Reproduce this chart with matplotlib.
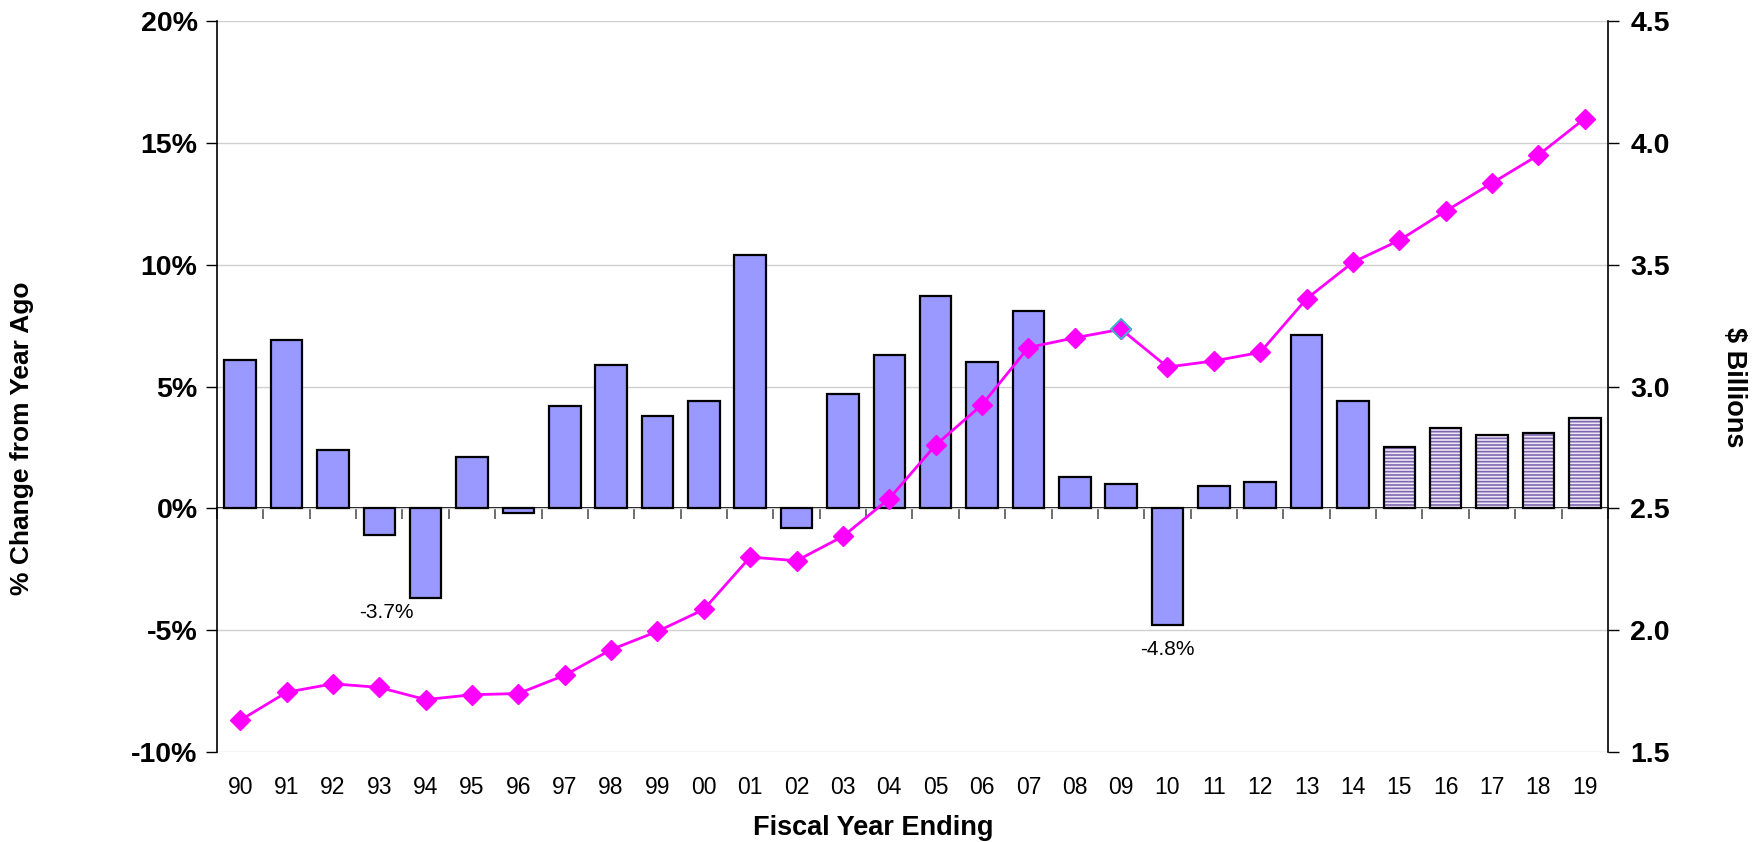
import matplotlib
matplotlib.use('Agg')
import matplotlib.pyplot as plt
import numpy as np

years = ['90','91','92','93','94','95','96','97','98','99','00','01','02','03','04',
         '05','06','07','08','09','10','11','12','13','14','15','16','17','18','19']
pct_change = [6.1, 6.9, 2.4, -1.1, -3.7, 2.1, -0.2, 4.2, 5.9, 3.8, 4.4, 10.4, -0.8, 4.7, 6.3,
              8.7, 6.0, 8.1, 1.3, 1.0, -4.8, 0.9, 1.1, 7.1, 4.4, 2.5, 3.3, 3.0, 3.1, 3.7]
billions = [1.63, 1.745, 1.78, 1.765, 1.715, 1.735, 1.74, 1.815, 1.92, 1.995, 2.085, 2.30, 2.285, 2.385, 2.54,
            2.76, 2.925, 3.16, 3.20, 3.235, 3.08, 3.105, 3.14, 3.36, 3.51, 3.60, 3.72, 3.835, 3.95, 4.10]
first_forecast = 25          # FY15 onward are projections
highlight = 19               # FY09 point
labelled = {4: (-0.85, -0.2), 20: (0.0, -0.6)}   # index: (dx, dy) for value labels

plt.rcParams['font.family'] = ['Liberation Sans', 'DejaVu Sans']
plt.rcParams['hatch.linewidth'] = 1.2

fig = plt.figure(figsize=(17.6, 8.42), dpi=100)
ax = fig.add_axes([0.1233, 0.1069, 0.7903, 0.8681])
ax2 = ax.twinx()

x = np.arange(len(years))
pct = np.array(pct_change)
hist = x < first_forecast
fc = x >= first_forecast

ax.bar(x[hist], pct[hist], width=0.68, color='#9999ff', edgecolor='black', linewidth=1.6, zorder=3)
ax.bar(x[fc], pct[fc], width=0.68, color='#eee8f6', edgecolor='#7e66b0', linewidth=0,
       hatch='-----', zorder=3)
ax.bar(x[fc], pct[fc], width=0.68, fill=False, edgecolor='black', linewidth=1.6, zorder=4)

for i, (dx, dy) in labelled.items():
    ax.text(x[i] + dx, pct[i] + dy, f'{pct[i]:.1f}%', ha='center', va='top', fontsize=15,
            zorder=5)

ax.set_xlim(-0.5, len(years) - 0.5)
ax.set_ylim(-10, 20)
ax.set_yticks(np.arange(-10, 21, 5))
ax.set_yticklabels([f'{v}%' for v in range(-10, 21, 5)], fontsize=20.5, fontweight='bold')
ax.yaxis.grid(True, color='#d0d0d0', linewidth=1.0, zorder=0)
ax.set_axisbelow(True)
ax.set_xticks(x)
ax.set_xticklabels(years, fontsize=16.5)
ax.tick_params(axis='x', length=0, pad=17)
ax.tick_params(axis='y', direction='out', length=8, width=1, pad=6)
for s in ['top', 'bottom', 'right']:
    ax.spines[s].set_visible(False)
ax.spines['left'].set_linewidth(1.2)

# zero line with category separators
zero = ax.secondary_xaxis(1 / 3)
zero.set_xticks(np.arange(-0.5, len(years), 1.0))
zero.set_xticklabels([])
zero.tick_params(direction='out', length=8, width=1.2, color='#555555')
zero.spines['bottom'].set_linewidth(1.4)

ax2.plot(x, billions, color='#ff00ff', linewidth=2.0, marker='D', markersize=10,
         markeredgecolor='#ff00ff', zorder=6)
ax2.plot(x[highlight], billions[highlight], linestyle='none', marker='D', markersize=10,
         color='#ff00ff', markeredgecolor='#3fb3c8', markeredgewidth=1.4, zorder=7)
ax2.set_ylim(1.5, 4.5)
ax2.set_yticks(np.arange(1.5, 4.51, 0.5))
ax2.set_yticklabels([f'{v:.1f}' for v in np.arange(1.5, 4.51, 0.5)], fontsize=20.5, fontweight='bold')
ax2.tick_params(axis='y', direction='out', length=8, width=1, pad=8)
for s in ['top', 'bottom', 'left']:
    ax2.spines[s].set_visible(False)
ax2.spines['right'].set_linewidth(1.2)

fig.text(0.0125, 0.48, '% Change from Year Ago', rotation=90, ha='center', va='center',
         fontsize=19, fontweight='bold')
fig.text(0.985, 0.54, '$ Billions', rotation=270, ha='center', va='center',
         fontsize=19.5, fontweight='bold')
fig.text(0.496, 0.017, 'Fiscal Year Ending', ha='center', va='center',
         fontsize=19.5, fontweight='bold')

fig.savefig('out.png', dpi=100)
